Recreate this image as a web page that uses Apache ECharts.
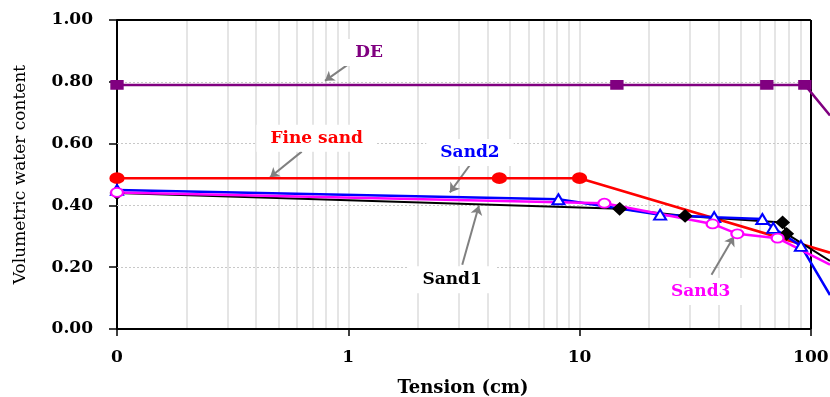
<!DOCTYPE html>
<html>
<head>
<meta charset="utf-8">
<script src="https://cdn.jsdelivr.net/npm/echarts@6/dist/echarts.min.js"></script>
<style>
  html, body { margin: 0; padding: 0; background: #fff; }
  #chart { width: 830px; height: 397px; }
</style>
</head>
<body>
<div id="chart"></div>
<script>
// Tension (cm) vs volumetric water content, one array per material
const deCurve  = [[0.1, 0.790], [14.5, 0.790], [64.5, 0.790], [94.2, 0.790], [121, 0.691]];
const fineSand = [[0.1, 0.488], [4.5, 0.488], [10, 0.488], [121, 0.247]];
const sand1    = [[0.1, 0.440], [14.9, 0.389], [28.6, 0.366], [75.5, 0.345], [78.6, 0.308], [121, 0.220]];
const sand2    = [[0.1, 0.450], [8.1, 0.420], [22.3, 0.370], [38.2, 0.362], [61.7, 0.356], [68.8, 0.327], [90.6, 0.269], [121, 0.110]];
const sand3    = [[0.1, 0.442], [12.8, 0.407], [37.6, 0.340], [48.1, 0.308], [71.8, 0.294], [121, 0.208]];

// Axis ticks: the framed range runs 0.1..100 cm, curves continue a little past it
const tensionTicks = [0.1, 1, 10, 100];
const tensionFrame = [0.1, 100];
const tensionShown = [0.1, 121];
const waterTicks   = [0, 0.2, 0.4, 0.6, 0.8, 1.0];

// Light vertical grid at every log subdivision
const logGrid = [0.2, 0.3, 0.4, 0.5, 0.6, 0.7, 0.8, 0.9, 1, 2, 3, 4, 5, 6, 7, 8, 9, 10, 20, 30, 40, 50, 60, 70, 80, 90];

// Curve names with their text anchors and pointer arrows (data coordinates)
const labelNames = ['DE', 'Fine sand', 'Sand2', 'Sand1', 'Sand3'];
const labelAt    = [[1.23, 0.895], [0.73, 0.6175], [3.36, 0.571], [2.81, 0.159], [33.4, 0.121]];
const arrowTail  = [[1.024, 0.862], [0.629, 0.574], [3.38, 0.534], [3.11, 0.208], [37.2, 0.1756]];
const arrowHead  = [[0.793, 0.803], [0.459, 0.491], [2.75, 0.442], [3.67, 0.399], [46.5, 0.299]];

const SERIF = '"DejaVu Serif", "Liberation Serif", serif';
const lo = tensionFrame[0], hi = tensionFrame[1];

// the point past the right frame only carries the line, no marker
function withEdge(points) {
  return points.map(p => (p[0] > hi ? { value: p, symbol: 'none' } : p));
}

function annotation(idx, color) {
  return {
    markPoint: {
      silent: true,
      symbol: 'rect',
      symbolSize: 1,
      itemStyle: { color: 'rgba(0,0,0,0)' },
      label: {
        show: true,
        position: 'inside',
        formatter: labelNames[idx],
        color: color,
        fontFamily: SERIF,
        fontWeight: 'bold',
        fontSize: 17,
        backgroundColor: '#fff',
        padding: [5, 14]
      },
      data: [{ coord: labelAt[idx] }]
    },
    markLine: {
      silent: true,
      symbol: ['none', 'arrow'],
      symbolSize: 9,
      label: { show: false },
      lineStyle: { color: '#808080', width: 2, type: 'solid' },
      emphasis: { disabled: true },
      data: [[{ coord: arrowTail[idx] }, { coord: arrowHead[idx] }]]
    }
  };
}

function curve(name, points, color, symbol, size, lineWidth, idx) {
  return Object.assign({
    name: name,
    type: 'line',
    data: withEdge(points),
    showAllSymbol: true,
    symbol: symbol,
    symbolSize: size,
    z: 5,
    lineStyle: { color: color, width: lineWidth },
    itemStyle: { color: color, borderColor: color, borderWidth: 2 },
    emphasis: { disabled: true }
  }, annotation(idx, color));
}

// straight segment between two data points
function seg(a, b) { return [{ coord: a }, { coord: b }]; }

const chart = echarts.init(document.getElementById('chart'), null, { renderer: 'canvas' });

chart.setOption({
  animation: false,
  backgroundColor: '#fff',
  grid: {
    left: 117, right: 0, top: 20, bottom: 68,
    show: false,
    outerBoundsMode: 'none'
  },
  xAxis: {
    type: 'log',
    logBase: 10,
    min: tensionShown[0],
    max: tensionShown[1],
    name: 'Tension (cm)',
    nameLocation: 'middle',
    nameGap: 50,
    nameTextStyle: { fontFamily: SERIF, fontWeight: 'bold', fontSize: 18, color: '#000', padding: [0, 21, 0, 0] },
    axisLine: { show: false, onZero: false },
    axisTick: { show: true, inside: false, length: 7, customValues: tensionTicks, lineStyle: { color: '#000', width: 1.5 } },
    axisLabel: {
      margin: 20,
      customValues: tensionTicks,
      fontFamily: SERIF, fontWeight: 'bold', fontSize: 17, color: '#000',
      formatter: v => (v < 1 ? '0' : String(Math.round(v)))
    },
    splitLine: { show: false },
    minorTick: { show: false },
    minorSplitLine: { show: false }
  },
  yAxis: {
    type: 'value',
    min: waterTicks[0],
    max: waterTicks[waterTicks.length - 1],
    interval: 0.2,
    name: 'Volumetric water content',
    nameLocation: 'middle',
    nameGap: 88,
    nameTextStyle: { fontFamily: SERIF, fontSize: 17, color: '#000' },
    axisLine: { show: true, lineStyle: { color: '#000', width: 2 } },
    axisTick: { show: true, inside: false, length: 8, lineStyle: { color: '#000', width: 1.5 } },
    axisLabel: {
      margin: 24,
      fontFamily: SERIF, fontWeight: 'bold', fontSize: 17, color: '#000',
      formatter: v => v.toFixed(2)
    },
    splitLine: { show: false }
  },
  series: [
    {
      name: 'grid',
      type: 'line',
      data: [],
      silent: true,
      z: 1,
      markLine: {
        silent: true,
        symbol: ['none', 'none'],
        label: { show: false },
        lineStyle: { color: '#dcdcdc', width: 1.5, type: 'solid' },
        emphasis: { disabled: true },
        data: logGrid.map(v => ({ xAxis: v }))
          .concat(waterTicks.slice(1, -1).map(v => [
            { coord: [lo, v], lineStyle: { color: '#c8c8c8', width: 1, type: [2, 2] } },
            { coord: [hi, v] }
          ]))
      }
    },
    {
      name: 'frame',
      type: 'line',
      data: [],
      silent: true,
      z: 4,
      markLine: {
        silent: true,
        symbol: ['none', 'none'],
        label: { show: false },
        lineStyle: { color: '#000', width: 2, type: 'solid' },
        emphasis: { disabled: true },
        data: [
          seg([lo, waterTicks[0]], [hi, waterTicks[0]]),
          seg([lo, waterTicks[waterTicks.length - 1]], [hi, waterTicks[waterTicks.length - 1]]),
          seg([hi, waterTicks[0]], [hi, waterTicks[waterTicks.length - 1]])
        ]
      }
    },
    curve('Fine sand', fineSand, '#ff0000', 'circle', [13, 10], 2.5, 1),
    curve('Sand1', sand1, '#000000', 'diamond', [12, 11], 2, 3),
    curve('Sand2', sand2, '#0000ff', 'emptyTriangle', [12, 10], 2.5, 2),
    curve('Sand3', sand3, '#ff00ff', 'emptyCircle', [12, 9], 2.5, 4),
    curve('DE', deCurve, '#800080', 'rect', [11, 8], 2.5, 0)
  ]
});
</script>
</body>
</html>
